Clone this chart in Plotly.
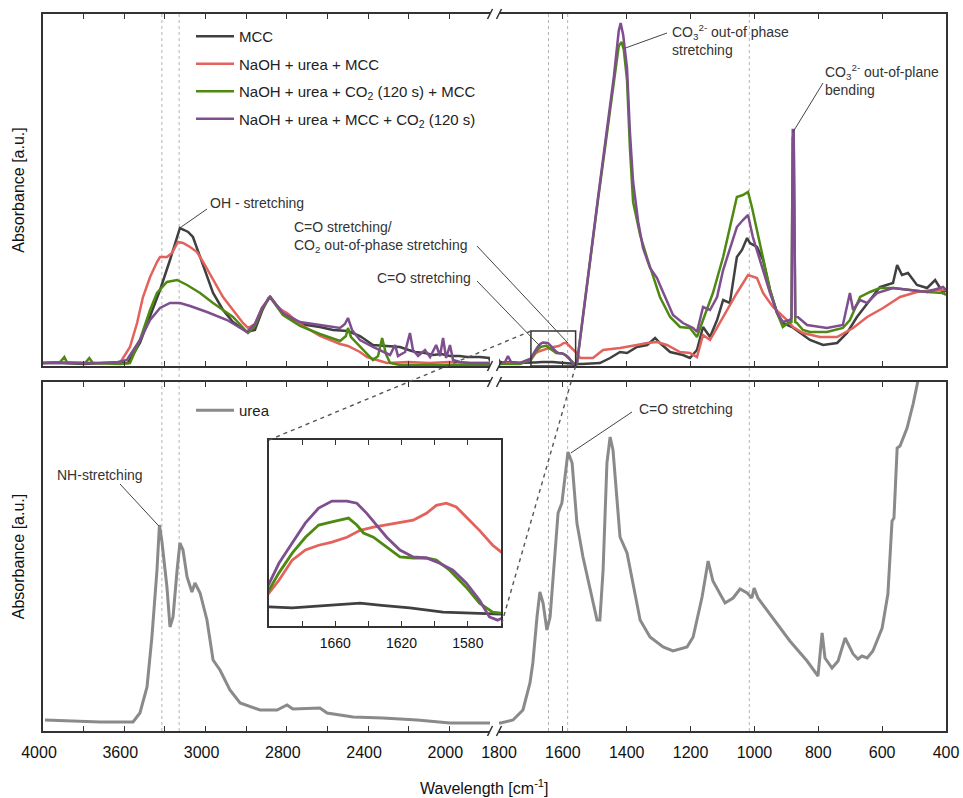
import plotly.graph_objects as go

W, H = 963, 798

# ---------------- data (wavenumber cm-1, absorbance a.u.) ----------------
MCC = [
    (4000, 3), (3900, 3), (3800, 2), (3700, 3), (3621, 3), (3582, 3), (3523, 23), (3473, 49),
    (3424, 76), (3375, 106), (3340, 129), (3326, 138), (3305, 136), (3286, 134), (3262, 129),
    (3227, 109), (3193, 89), (3163, 73), (3114, 56), (3065, 44), (2996, 34), (2957, 36),
    (2922, 55), (2890, 68), (2880, 69), (2848, 60), (2799, 50), (2735, 42), (2637, 39),
    (2573, 36), (2499, 35), (2440, 30), (2376, 21), (2307, 20), (2243, 19), (2200, 16),
    (2169, 14), (2120, 13), (2080, 11), (2040, 12), (1997, 10), (1950, 10), (1913, 9),
    (1849, 9), (1805, 8),
    (1795, 3), (1766, 4), (1734, 3), (1701, 3.6), (1686, 3.4), (1665, 3.9), (1645, 4.3),
    (1632, 3.9), (1615, 3.4), (1595, 2.6), (1575, 2.4), (1559, 2.1), (1540, 2), (1484, 3),
    (1452, 8), (1421, 14), (1399, 13), (1368, 19), (1336, 21), (1311, 28), (1296, 23),
    (1264, 14), (1224, 11), (1202, 8), (1180, 16), (1161, 39), (1139, 29), (1117, 46),
    (1098, 66), (1077, 63), (1055, 109), (1039, 116), (1023, 128), (1014, 123), (992, 119),
    (973, 106), (951, 76), (929, 53), (911, 43), (882, 39), (857, 33), (826, 26), (785, 21),
    (741, 23), (710, 33), (679, 49), (638, 66), (607, 79), (566, 83), (553, 101), (538, 91),
    (519, 93), (491, 81), (459, 78), (434, 86), (409, 73), (400, 76),
]

NAOH_UREA_MCC = [
    (4000, 3), (3900, 4), (3800, 3), (3670, 3), (3621, 3), (3572, 19), (3537, 43), (3508, 69),
    (3473, 89), (3439, 104), (3424, 109), (3390, 109), (3365, 113), (3336, 124), (3311, 123),
    (3276, 119), (3242, 114), (3212, 104), (3163, 86), (3114, 69), (3065, 56), (3016, 43),
    (2991, 38), (2957, 42), (2922, 58), (2883, 69), (2834, 57), (2799, 53), (2735, 42),
    (2637, 30), (2538, 22), (2499, 20), (2440, 14), (2405, 9), (2307, 3), (2200, 4),
    (2100, 3), (2000, 4), (1900, 3), (1805, 3),
    (1795, 3), (1734, 3), (1701, 5.8), (1694, 8.6), (1686, 12.4), (1678, 14.3), (1670, 15.2),
    (1662, 15.8), (1653, 16.7), (1645, 18.0), (1637, 18.6), (1629, 19.0), (1621, 19.4),
    (1613, 19.9), (1605, 21.2), (1599, 22.7), (1593, 23.1), (1587, 22.4), (1581, 20.5),
    (1573, 18.0), (1565, 15.2), (1559, 13.7), (1546, 8), (1506, 8), (1474, 16), (1421, 18),
    (1368, 21), (1336, 23), (1305, 24), (1274, 21), (1233, 14), (1202, 13), (1180, 9),
    (1161, 31), (1139, 26), (1098, 49), (1055, 73), (1020, 91), (992, 88), (973, 73),
    (942, 59), (898, 46), (879, 39), (848, 33), (795, 29), (741, 29), (691, 38), (647, 49),
    (597, 58), (544, 69), (491, 74), (441, 76), (400, 76),
]

NAOH_UREA_CO2_MCC = [
    (4000, 3), (3916, 4), (3895, 9), (3880, 3), (3793, 3), (3772, 8), (3755, 3), (3621, 2),
    (3572, 3), (3523, 26), (3473, 56), (3439, 73), (3390, 84), (3340, 86), (3291, 81),
    (3227, 73), (3163, 63), (3065, 49), (2991, 33), (2957, 40), (2922, 57), (2883, 69),
    (2819, 51), (2735, 40), (2637, 32), (2538, 25), (2509, 30), (2499, 38), (2484, 29),
    (2425, 16), (2376, 6), (2351, 10), (2331, 28), (2312, 12), (2292, 3), (2243, 1),
    (2000, 1), (1805, 1),
    (1795, 2), (1734, 2), (1701, 6.2), (1694, 10.0), (1686, 13.7), (1678, 16.7), (1670, 19.0),
    (1662, 19.6), (1652, 20.3), (1647, 19.0), (1643, 17.5), (1637, 16.7), (1629, 14.9),
    (1621, 13.0), (1613, 12.8), (1605, 12.8), (1599, 12.4), (1591, 10.5), (1581, 7.3),
    (1573, 4.3), (1565, 2.6), (1559, 2.4), (1556, 2), (1490, 166), (1440, 287), (1425, 320),
    (1416, 324), (1409, 316), (1399, 286), (1390, 218), (1380, 164), (1358, 131), (1336, 108),
    (1305, 78), (1296, 69), (1264, 49), (1233, 39), (1202, 38), (1180, 29), (1161, 46),
    (1130, 73), (1098, 109), (1077, 139), (1055, 169), (1036, 171), (1020, 174), (1008, 159),
    (992, 136), (973, 106), (951, 76), (929, 53), (911, 39), (895, 43), (884, 44), (880, 228),
    (877, 228), (872, 44), (867, 43), (848, 36), (826, 34), (773, 34), (723, 38), (701, 46),
    (669, 69), (638, 74), (607, 78), (566, 78), (513, 76), (459, 74), (409, 73), (400, 71),
]

NAOH_UREA_MCC_CO2 = [
    (4000, 3), (3850, 3), (3719, 3), (3631, 4), (3587, 6), (3523, 26), (3473, 46), (3424, 58),
    (3375, 63), (3326, 63), (3276, 60), (3193, 54), (3094, 46), (2996, 34), (2957, 42),
    (2922, 58), (2883, 69), (2819, 53), (2735, 44), (2637, 41), (2538, 38), (2514, 42),
    (2499, 48), (2479, 36), (2440, 26), (2376, 19), (2327, 14), (2292, 11), (2267, 21),
    (2253, 10), (2218, 14), (2194, 33), (2179, 16), (2154, 10), (2120, 16), (2095, 9),
    (2065, 21), (2046, 10), (2031, 28), (2016, 8), (1997, 21), (1982, 6), (1948, 4),
    (1898, 3), (1805, 3),
    (1795, 3), (1781, 4), (1772, 10), (1762, 4), (1734, 3), (1701, 7.3), (1694, 11.8),
    (1686, 15.6), (1678, 19.4), (1670, 22.2), (1662, 23.5), (1653, 23.5), (1647, 23.1),
    (1641, 21.2), (1635, 19.0), (1629, 16.7), (1621, 14.3), (1613, 13.0), (1605, 12.8),
    (1597, 11.8), (1589, 10.5), (1581, 8.1), (1573, 4.9), (1567, 1.7), (1562, 1.1),
    (1559, 1.5), (1556, 2), (1490, 168), (1440, 290), (1425, 335), (1419, 343), (1411, 331),
    (1399, 298), (1390, 234), (1380, 184), (1364, 144), (1349, 118), (1327, 98), (1305, 88),
    (1296, 81), (1274, 64), (1255, 51), (1224, 43), (1192, 38), (1180, 34), (1161, 59),
    (1139, 56), (1117, 69), (1098, 96), (1077, 116), (1055, 139), (1036, 146), (1020, 151),
    (1005, 129), (983, 106), (951, 73), (929, 53), (911, 44), (889, 46), (884, 48),
    (880, 236), (877, 236), (872, 50), (864, 49), (835, 41), (773, 38), (723, 41), (701, 73),
    (691, 56), (669, 66), (647, 63), (616, 73), (566, 78), (459, 74), (409, 79), (400, 76),
]

UREA = [
    (3990, 11), (3850, 10), (3719, 9), (3557, 9), (3523, 18), (3488, 44), (3464, 94),
    (3439, 161), (3427, 206), (3415, 190), (3390, 144), (3375, 104), (3360, 114), (3340, 161),
    (3326, 188), (3311, 181), (3291, 154), (3267, 139), (3252, 148), (3227, 138), (3193, 111),
    (3163, 71), (3129, 61), (3080, 41), (3030, 28), (2932, 21), (2848, 21), (2799, 26),
    (2770, 22), (2637, 23), (2602, 18), (2474, 14), (2327, 13), (2159, 11), (1997, 8),
    (1805, 8),
    (1795, 8), (1756, 11), (1725, 21), (1703, 48), (1694, 68), (1681, 114), (1672, 139),
    (1662, 128), (1650, 101), (1640, 114), (1625, 174), (1615, 218), (1603, 228), (1593, 258),
    (1584, 279), (1571, 268), (1556, 208), (1537, 174), (1515, 141), (1493, 111), (1484, 111),
    (1474, 161), (1462, 268), (1452, 294), (1443, 281), (1421, 194), (1399, 178), (1380, 148),
    (1358, 111), (1327, 94), (1286, 84), (1255, 80), (1211, 84), (1192, 94), (1164, 134),
    (1145, 170), (1130, 150), (1092, 128), (1067, 133), (1045, 142), (1023, 138), (1008, 133),
    (1001, 143), (989, 133), (942, 113), (889, 90), (835, 70), (801, 55), (788, 98), (779, 73),
    (757, 63), (738, 70), (716, 93), (691, 77), (676, 72), (663, 75), (647, 73), (629, 80),
    (600, 103), (582, 137), (569, 210), (563, 213), (553, 283), (544, 285), (522, 303),
    (503, 327), (488, 350), (466, 380),
]

SERIES = [MCC, NAOH_UREA_MCC, NAOH_UREA_CO2_MCC, NAOH_UREA_MCC_CO2]
SERIES_NAMES = [
    "MCC",
    "NaOH + urea + MCC",
    "NaOH + urea + CO<sub>2</sub> (120 s) + MCC",
    "NaOH + urea + MCC + CO<sub>2</sub> (120 s)",
]
SERIES_COLORS = ["#404040", "#e3625c", "#4e8a12", "#7e4e8e"]
UREA_NAME = "urea"
UREA_COLOR = "#8a8a8a"

LEFT_TICKS = [4000, 3600, 3200, 2800, 2400, 2000]
LEFT_TICK_LABELS = ["4000", "3600", "3000", "2800", "2400", "2000"]
LEFT_MINOR_TICKS = [3800, 3400, 3000, 2600, 2200]
RIGHT_TICKS = [1800, 1600, 1400, 1200, 1000, 800, 600, 400]
RIGHT_TICK_LABELS = ["1800", "1600", "1400", "1200", "1000", "800", "600", "400"]
INSET_TICKS = [1660, 1620, 1580]
INSET_TICK_LABELS = ["1660", "1620", "1580"]
INSET_MINOR_TICKS = [1680, 1640, 1600]
GUIDE_WN_LEFT = [3415, 3330]
GUIDE_WN_RIGHT = [1645, 1585, 1016]

LEFT_RANGE = [4000, 1800]
RIGHT_RANGE = [1800, 400]
INSET_RANGE = [1700, 1560]
TOP_YMAX, BOT_YMAX, INSET_YMAX = 352, 349, 35

# ---------------- geometry (pixels) ----------------
XL, XR = (43, 490), (499, 946)
YT, YB = (14, 366), (382, 731)
IX, IY = (269, 501), (440, 626)


def xdom(a, b):
    return [a / W, b / W]


def ydom(top, bottom):
    return [1 - bottom / H, 1 - top / H]


AX_GEOM = {
    "x": (XL, LEFT_RANGE, YT, TOP_YMAX),
    "x2": (XR, RIGHT_RANGE, YT, TOP_YMAX),
    "x3": (XL, LEFT_RANGE, YB, BOT_YMAX),
    "x4": (XR, RIGHT_RANGE, YB, BOT_YMAX),
}


def data_to_paper(ax, wn, val):
    xa, xr, ya, ymax = AX_GEOM[ax]
    px = xa[0] + (xr[0] - wn) / (xr[0] - xr[1]) * (xa[1] - xa[0])
    py = ya[1] - val / ymax * (ya[1] - ya[0])
    return px / W, 1 - py / H


FONT = "Liberation Sans, Arial, sans-serif"
AXC = "#333333"

fig = go.Figure()


def add_series(data, name, color, xa, ya, width, legend, show, group):
    fig.add_trace(go.Scatter(
        x=[p[0] for p in data], y=[p[1] for p in data], mode="lines", name=name,
        xaxis=xa, yaxis=ya, line=dict(color=color, width=width), showlegend=show,
        legend=legend, legendgroup=group, hoverinfo="skip",
    ))


for data, name, color in zip(SERIES, SERIES_NAMES, SERIES_COLORS):
    add_series(data, name, color, "x", "y", 2.5, "legend", True, name)
for data, name, color in zip(SERIES, SERIES_NAMES, SERIES_COLORS):
    add_series(data, name, color, "x2", "y2", 2.5, "legend", False, name)
add_series(UREA, UREA_NAME, UREA_COLOR, "x3", "y3", 3, "legend2", True, "urea")
add_series(UREA, UREA_NAME, UREA_COLOR, "x4", "y4", 3, "legend2", False, "urea")
for data, name, color in zip(SERIES, SERIES_NAMES, SERIES_COLORS):
    add_series(data, name, color, "x5", "y5", 2.8, "legend", False, name)

MINOR = dict(ticks="inside", ticklen=5, tickwidth=1.3, tickcolor=AXC, tickmode="array")
base_x = dict(showgrid=False, zeroline=False, showline=True, linecolor=AXC, linewidth=2,
              ticks="inside", ticklen=5, tickwidth=1.3, tickcolor=AXC, mirror="ticks",
              automargin=False, tickfont=dict(family=FONT, size=16, color="#111"))
base_y = dict(showgrid=False, zeroline=False, showline=True, linecolor=AXC, linewidth=2,
              ticks="", showticklabels=False, automargin=False)

ytitle = dict(text="Absorbance [a.u.]", font=dict(family=FONT, size=16, color="#111"), standoff=12)
LEG_FONT = dict(family=FONT, size=15, color="#222")

fig.update_layout(
    width=W, height=H, margin=dict(l=0, r=0, t=0, b=0, autoexpand=False),
    paper_bgcolor="white", plot_bgcolor="rgba(0,0,0,0)",
    font=dict(family=FONT, color="#222"),
    hovermode=False,
    xaxis=dict(base_x, domain=xdom(*XL), range=LEFT_RANGE, anchor="y",
               tickvals=LEFT_TICKS, showticklabels=False,
               minor=dict(MINOR, tickvals=LEFT_MINOR_TICKS)),
    yaxis=dict(base_y, domain=ydom(*YT), range=[0, TOP_YMAX], anchor="x", title=ytitle),
    xaxis2=dict(base_x, domain=xdom(*XR), range=RIGHT_RANGE, anchor="y2",
                tickvals=RIGHT_TICKS, showticklabels=False),
    yaxis2=dict(base_y, domain=ydom(*YT), range=[0, TOP_YMAX], anchor="x2", side="right"),
    xaxis3=dict(base_x, domain=xdom(*XL), range=LEFT_RANGE, anchor="y3",
                tickvals=LEFT_TICKS, ticktext=LEFT_TICK_LABELS, ticklabelstandoff=6,
                ticklabelshift=4, minor=dict(MINOR, tickvals=LEFT_MINOR_TICKS)),
    yaxis3=dict(base_y, domain=ydom(*YB), range=[0, BOT_YMAX], anchor="x3", title=ytitle),
    xaxis4=dict(base_x, domain=xdom(*XR), range=RIGHT_RANGE, anchor="y4",
                tickvals=RIGHT_TICKS, ticktext=RIGHT_TICK_LABELS, ticklabelstandoff=6),
    yaxis4=dict(base_y, domain=ydom(*YB), range=[0, BOT_YMAX], anchor="x4", side="right"),
    xaxis5=dict(base_x, domain=xdom(*IX), range=INSET_RANGE, anchor="y5",
                tickvals=INSET_TICKS, ticktext=INSET_TICK_LABELS, ticklabelstandoff=3,
                tickfont=dict(family=FONT, size=14, color="#111"),
                minor=dict(MINOR, tickvals=INSET_MINOR_TICKS)),
    yaxis5=dict(base_y, domain=ydom(*IY), range=[0, INSET_YMAX], anchor="x5", mirror=True),
    legend=dict(x=191 / W, y=1 - 20 / H, xanchor="left", yanchor="top", font=LEG_FONT,
                bgcolor="rgba(0,0,0,0)", traceorder="grouped", tracegroupgap=5, itemwidth=38),
    legend2=dict(x=191 / W, y=1 - 394 / H, xanchor="left", yanchor="top", font=LEG_FONT,
                 bgcolor="rgba(0,0,0,0)", itemwidth=38),
)

shapes = []
y_all = [1 - YB[1] / H, 1 - YT[0] / H]
for wn in GUIDE_WN_LEFT:
    shapes.append(dict(type="line", xref="x", yref="paper", x0=wn, x1=wn, y0=y_all[0], y1=y_all[1],
                       line=dict(color="#b4b4b4", width=1, dash="dot"), layer="below"))
for wn in GUIDE_WN_RIGHT:
    shapes.append(dict(type="line", xref="x2", yref="paper", x0=wn, x1=wn, y0=y_all[0], y1=y_all[1],
                       line=dict(color="#b4b4b4", width=1, dash="dot"), layer="below"))

# zoom box in the top panel
shapes.append(dict(type="rect", xref="x2", yref="y2", x0=INSET_RANGE[0], x1=INSET_RANGE[1],
                   y0=0, y1=INSET_YMAX, line=dict(color=AXC, width=1.5)))

# connectors from zoom box to inset
ix = xdom(*IX)
iy = ydom(*IY)
p1 = data_to_paper("x2", INSET_RANGE[0], INSET_YMAX)
p2 = data_to_paper("x2", INSET_RANGE[1], 0)
for (ax0, ay0), (ax1, ay1) in (((p1[0], p1[1]), (ix[0], iy[1])), ((p2[0], p2[1]), (ix[1], iy[0]))):
    shapes.append(dict(type="line", xref="paper", yref="paper", x0=ax0, y0=ay0, x1=ax1, y1=ay1,
                       line=dict(color="#555", width=1.4, dash="4px,4px")))

# axis break marks
for bx in (XL[1], XR[0]):
    for by in (YT[0], YT[1], YB[0], YB[1]):
        shapes.append(dict(type="line", xref="paper", yref="paper",
                           x0=(bx - 2.5) / W, y0=1 - (by + 5) / H,
                           x1=(bx + 2.5) / W, y1=1 - (by - 5) / H,
                           line=dict(color=AXC, width=1.5)))

# annotation leader lines: (axis, head wavenumber, head absorbance, tail px x, tail px y)
LEADERS = [
    ("x", 3320, 139, 207, 209),
    ("x2", 1584, 23, 477, 246),
    ("x2", 1672, 20, 477, 281),
    ("x2", 1404, 318, 667, 33),
    ("x2", 879, 234, 823, 83),
    ("x3", 3430, 205, 120, 484),
    ("x4", 1575, 278, 632, 412),
]
for ax, wn, val, tx, ty in LEADERS:
    hx, hy = data_to_paper(ax, wn, val)
    shapes.append(dict(type="line", xref="paper", yref="paper", x0=hx, y0=hy,
                       x1=tx / W, y1=1 - ty / H, line=dict(color="#444", width=1)))

fig.update_layout(shapes=shapes)

AF = dict(family=FONT, size=14, color="#333")


def label(text, left_px, center_py):
    return dict(x=left_px / W, y=1 - center_py / H, xref="paper", yref="paper",
                xanchor="left", yanchor="middle", align="left", text=text, font=AF,
                showarrow=False)


annotations = [
    label("OH - stretching", 208, 203),
    label("C=O stretching/<br>CO<sub>2</sub> out-of-phase stretching", 292, 237),
    label("C=O stretching", 375, 278),
    label("CO<sub>3</sub><sup>2-</sup> out-of phase<br>stretching", 670, 40),
    label("CO<sub>3</sub><sup>2-</sup> out-of-plane<br>bending", 823, 80),
    label("NH-stretching", 55, 475),
    label("C=O stretching", 637, 409),
    dict(x=484 / W, y=1 - 787 / H, xref="paper", yref="paper", xanchor="center", yanchor="middle",
         text="Wavelength [cm<sup>-1</sup>]", font=dict(family=FONT, size=16, color="#111"),
         showarrow=False),
]
fig.update_layout(annotations=annotations)

fig.write_html("out.html", config={"displayModeBar": False})
